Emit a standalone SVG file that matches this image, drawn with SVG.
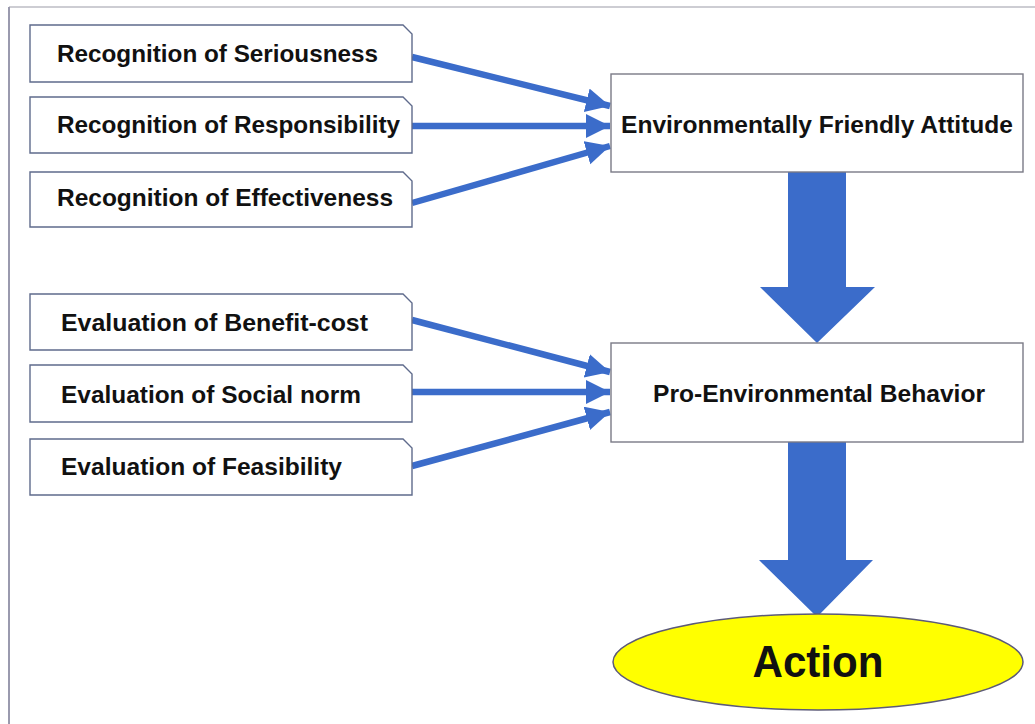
<svg xmlns="http://www.w3.org/2000/svg" width="1035" height="724" viewBox="0 0 1035 724">
  <style>
    .factor { fill: #ffffff; stroke: #5f6b8c; stroke-width: 1.4; }
    .stage { fill: #ffffff; stroke: #7a7a86; stroke-width: 1.4; }
    .label { font-family: "Liberation Sans", Arial, sans-serif; font-weight: bold; font-size: 24px; fill: #111111; }
    .link { stroke: #3b6cca; stroke-width: 6.5; fill: none; marker-end: url(#head); }
    .block { fill: #3b6cca; }
  </style>
  <defs>
    <marker id="head" markerUnits="userSpaceOnUse" markerWidth="26" markerHeight="26" refX="24" refY="12" orient="auto">
      <path d="M0,0 L24,12 L0,24 Z" fill="#3b6cca"/>
    </marker>
  </defs>

  <rect x="0" y="0" width="1035" height="724" fill="#ffffff"/>
  <!-- frame edges -->
  <line x1="9" y1="7" x2="1035" y2="7" stroke="#bdbdc4" stroke-width="1.6"/>
  <line x1="9" y1="7" x2="9" y2="724" stroke="#9a9aae" stroke-width="2"/>

  <!-- connectors -->
  <g id="connectors">
    <line class="link" x1="412" y1="57" x2="610" y2="106"/>
    <line class="link" x1="412" y1="126" x2="610" y2="126"/>
    <line class="link" x1="412" y1="203" x2="610" y2="146"/>
    <line class="link" x1="412" y1="320" x2="610" y2="372"/>
    <line class="link" x1="412" y1="392" x2="610" y2="392"/>
    <line class="link" x1="412" y1="466" x2="610" y2="412"/>
    <polygon class="block" points="788,172 846,172 846,287 875,287 817,343 760,287 788,287"/>
    <polygon class="block" points="788,442 846,442 846,560 873,560 817,617 759,560 788,560"/>
  </g>

  <!-- recognition factors -->
  <g id="rec-seriousness">
    <path class="factor" d="M30,25 H403 L412,34 V82 H30 Z"/>
    <text class="label" x="57" y="62" textLength="321" lengthAdjust="spacingAndGlyphs">Recognition of Seriousness</text>
  </g>
  <g id="rec-responsibility">
    <path class="factor" d="M30,97 H403 L412,106 V153 H30 Z"/>
    <text class="label" x="57" y="133" textLength="343" lengthAdjust="spacingAndGlyphs">Recognition of Responsibility</text>
  </g>
  <g id="rec-effectiveness">
    <path class="factor" d="M30,172 H403 L412,181 V227 H30 Z"/>
    <text class="label" x="57" y="206" textLength="336" lengthAdjust="spacingAndGlyphs">Recognition of Effectiveness</text>
  </g>

  <!-- evaluation factors -->
  <g id="eval-benefit-cost">
    <path class="factor" d="M30,294 H403 L412,303 V350 H30 Z"/>
    <text class="label" x="61" y="331" textLength="307" lengthAdjust="spacingAndGlyphs">Evaluation of Benefit-cost</text>
  </g>
  <g id="eval-social-norm">
    <path class="factor" d="M30,365 H403 L412,374 V422 H30 Z"/>
    <text class="label" x="61" y="403" textLength="300" lengthAdjust="spacingAndGlyphs">Evaluation of Social norm</text>
  </g>
  <g id="eval-feasibility">
    <path class="factor" d="M30,439 H403 L412,448 V495 H30 Z"/>
    <text class="label" x="61" y="475" textLength="281" lengthAdjust="spacingAndGlyphs">Evaluation of Feasibility</text>
  </g>

  <!-- stages -->
  <g id="attitude">
    <rect class="stage" x="611" y="74" width="412" height="98"/>
    <text class="label" x="817" y="133" text-anchor="middle" textLength="392" lengthAdjust="spacingAndGlyphs">Environmentally Friendly Attitude</text>
  </g>
  <g id="behavior">
    <rect class="stage" x="611" y="343" width="412" height="99"/>
    <text class="label" x="819" y="402" text-anchor="middle" textLength="332" lengthAdjust="spacingAndGlyphs">Pro-Environmental Behavior</text>
  </g>
  <g id="action">
    <ellipse cx="818" cy="662" rx="205" ry="48" fill="#ffff00" stroke="#5c5a78" stroke-width="1.5"/>
    <text class="label" x="818" y="677" text-anchor="middle" style="font-size:44px" textLength="131" lengthAdjust="spacingAndGlyphs">Action</text>
  </g>
</svg>
